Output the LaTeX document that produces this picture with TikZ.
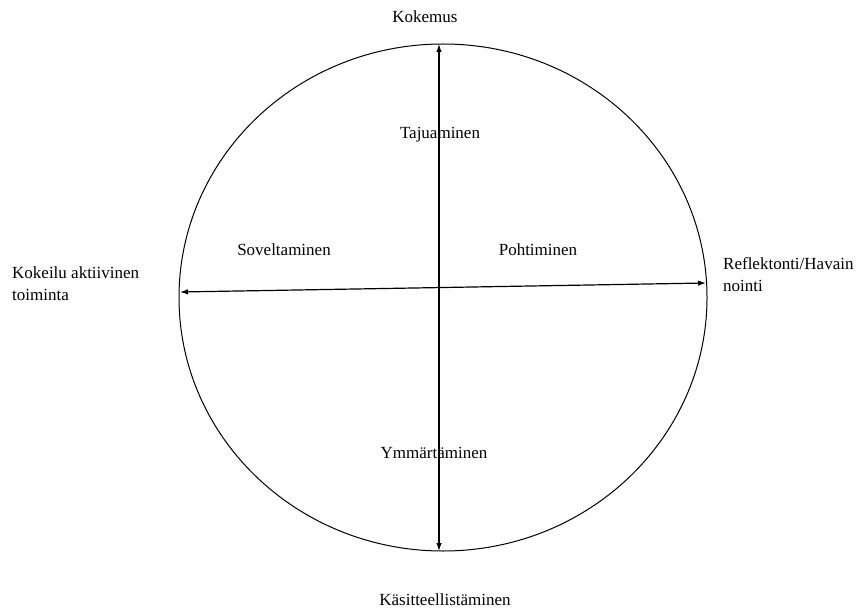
\documentclass[tikz,border=0pt]{standalone}
\usepackage{fontspec}
\setmainfont{Liberation Serif}
\usetikzlibrary{arrows.meta, positioning}
\tikzstyle{lbl} = [inner sep = 0pt,
			font = \fontsize{17}{22}\selectfont,
			anchor = base]
\tikzstyle{side} = [lbl,
			align = left,
			anchor = base west]
\tikzstyle{axis} = [draw, line width = 1.2pt, {Latex[length=8pt,width=5.5pt]}-{Latex[length=8pt,width=5.5pt]}]

\begin{document}
\begin{tikzpicture}[x=1pt, y=-1pt]
	\useasboundingbox (0,0) rectangle (858,609);
	\draw [line width = 1pt] (443,297.5) ellipse [x radius = 264, y radius = 253.5];
	\coordinate (top) at (439,44);
	\coordinate (bottom) at (439,551);
	\coordinate (left) at (180,292);
	\coordinate (right) at (706,283);
	\path [axis] (top) -- (bottom);
	\path [axis] (left) -- (right);
	\node [lbl] (kokemus) at (425,23) {Kokemus};
	\node [lbl] (kasite) at (445,605) {Käsitteellistäminen};
	\node [side] (kokeilu) at (12,300) {Kokeilu aktiivinen\\toiminta};
	\node [side] (reflek) at (723,291) {Reflektonti/Havain\\nointi};
	\node [lbl] (tajua) at (440,139) {Tajuaminen};
	\node [lbl] (ymmar) at (434,458) {Ymmärtäminen};
	\node [lbl] (sovel) at (284,255) {Soveltaminen};
	\node [lbl] (pohti) at (538,255) {Pohtiminen};
\end{tikzpicture}
\end{document}
